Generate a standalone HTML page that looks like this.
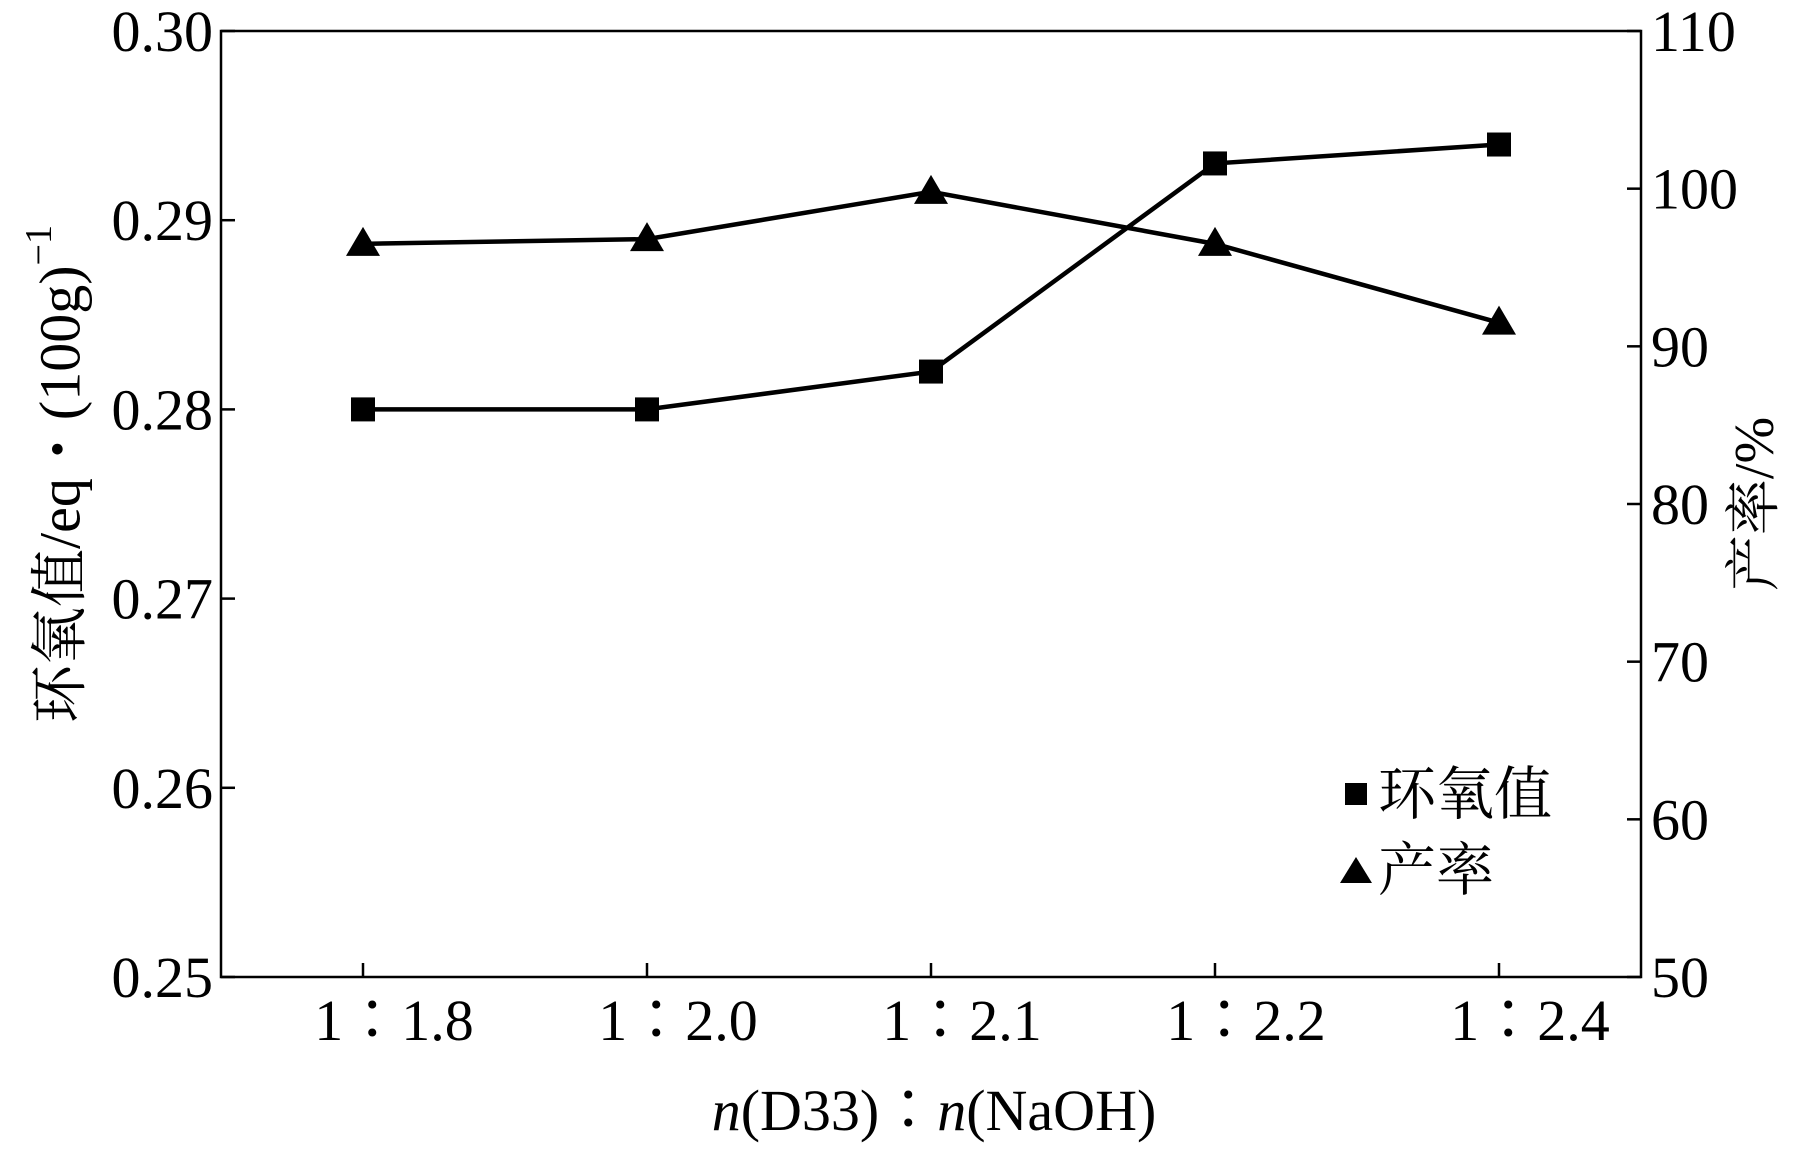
<!DOCTYPE html>
<html><head><meta charset="utf-8"><style>
body{margin:0;background:#fff}
svg text{font-family:"Liberation Serif","Noto Serif CJK SC",serif;fill:#000}
</style></head><body>
<svg id="chart" width="1794" height="1167" xmlns="http://www.w3.org/2000/svg">
<g id="axes"></g>
<g id="marks"></g>
<text transform="translate(66,474) rotate(-90)" text-anchor="middle" dominant-baseline="middle" font-size="58">环氧值/eq・(100g)<tspan dy="-24" font-size="38">−1</tspan></text>
<text transform="translate(1760,504) rotate(-90)" text-anchor="middle" dominant-baseline="middle" font-size="56">产率/%</text>
<text x="934" y="1130" text-anchor="middle" font-size="58"><tspan font-style="italic">n</tspan>(D33)∶<tspan font-style="italic">n</tspan>(NaOH)</text>
<g>
<rect x="1345" y="783" width="22" height="22" fill="#000"/>
<text x="1378" y="814" font-size="58">环氧值</text>
<polygon points="1356,857 1340,883 1372,883" fill="#000"/>
<text x="1378" y="890" font-size="58">产率</text>
</g>
</svg>
<script>
const categories=["1∶1.8","1∶2.0","1∶2.1","1∶2.2","1∶2.4"];
const epoxyValues=[0.280,0.280,0.282,0.293,0.294];
const yieldValues=[96.5,96.8,99.8,96.5,91.5];
const leftTicks=[0.25,0.26,0.27,0.28,0.29,0.30];
const rightTicks=[50,60,70,80,90,100,110];
const L=221,R=1641,T=31,B=977;
const NS="http://www.w3.org/2000/svg";
const xs=i=>L+(i+0.5)*(R-L)/categories.length;
const yL=v=>B-(v-0.25)/(0.05)*(B-T);
const yR=v=>B-(v-50)/60*(B-T);
const ax=document.getElementById('axes'),mk=document.getElementById('marks');
function el(t,a,p){const e=document.createElementNS(NS,t);for(const k in a)e.setAttribute(k,a[k]);p.appendChild(e);return e;}
const frame=el('rect',{x:L,y:T,width:R-L,height:B-T,fill:'none',stroke:'#000','stroke-width':2.5},ax);


leftTicks.forEach(v=>{const y=yL(v);
 const tk=el('line',{x1:L,x2:L+14,y1:y,y2:y,stroke:'#000','stroke-width':2.5},ax);
 
 
 const t=el('text',{x:L-8,y:y+20,'text-anchor':'end','font-size':58},ax);t.textContent=v.toFixed(2);
 
 });
rightTicks.forEach(v=>{const y=yR(v);
 const tk=el('line',{x1:R-14,x2:R,y1:y,y2:y,stroke:'#000','stroke-width':2.5},ax);
 
 
 const t=el('text',{x:R+10,y:y+20,'text-anchor':'start','font-size':58},ax);t.textContent=v;
 
 });
categories.forEach((c,i)=>{const x=xs(i);
 const tk=el('line',{x1:x,x2:x,y1:B,y2:B-14,stroke:'#000','stroke-width':2.5},ax);
 
 
 const t=el('text',{x:x+31,y:1040,'text-anchor':'middle','font-size':58},ax);t.textContent=c;
 
 });
const l1=el('polyline',{points:epoxyValues.map((v,i)=>xs(i)+','+yL(v)).join(' '),fill:'none',stroke:'#000','stroke-width':4.5},mk);


const l2=el('polyline',{points:yieldValues.map((v,i)=>xs(i)+','+yR(v)).join(' '),fill:'none',stroke:'#000','stroke-width':4.5},mk);


epoxyValues.forEach((v,i)=>{const r=el('rect',{x:xs(i)-12,y:yL(v)-12,width:24,height:24,fill:'#000'},mk);
 
 });
yieldValues.forEach((v,i)=>{const x=xs(i),y=yR(v);
 const p=el('polygon',{points:`${x},${y-17} ${x-17},${y+12} ${x+17},${y+12}`,fill:'#000'},mk);
 
 });
</script>
</body></html>
